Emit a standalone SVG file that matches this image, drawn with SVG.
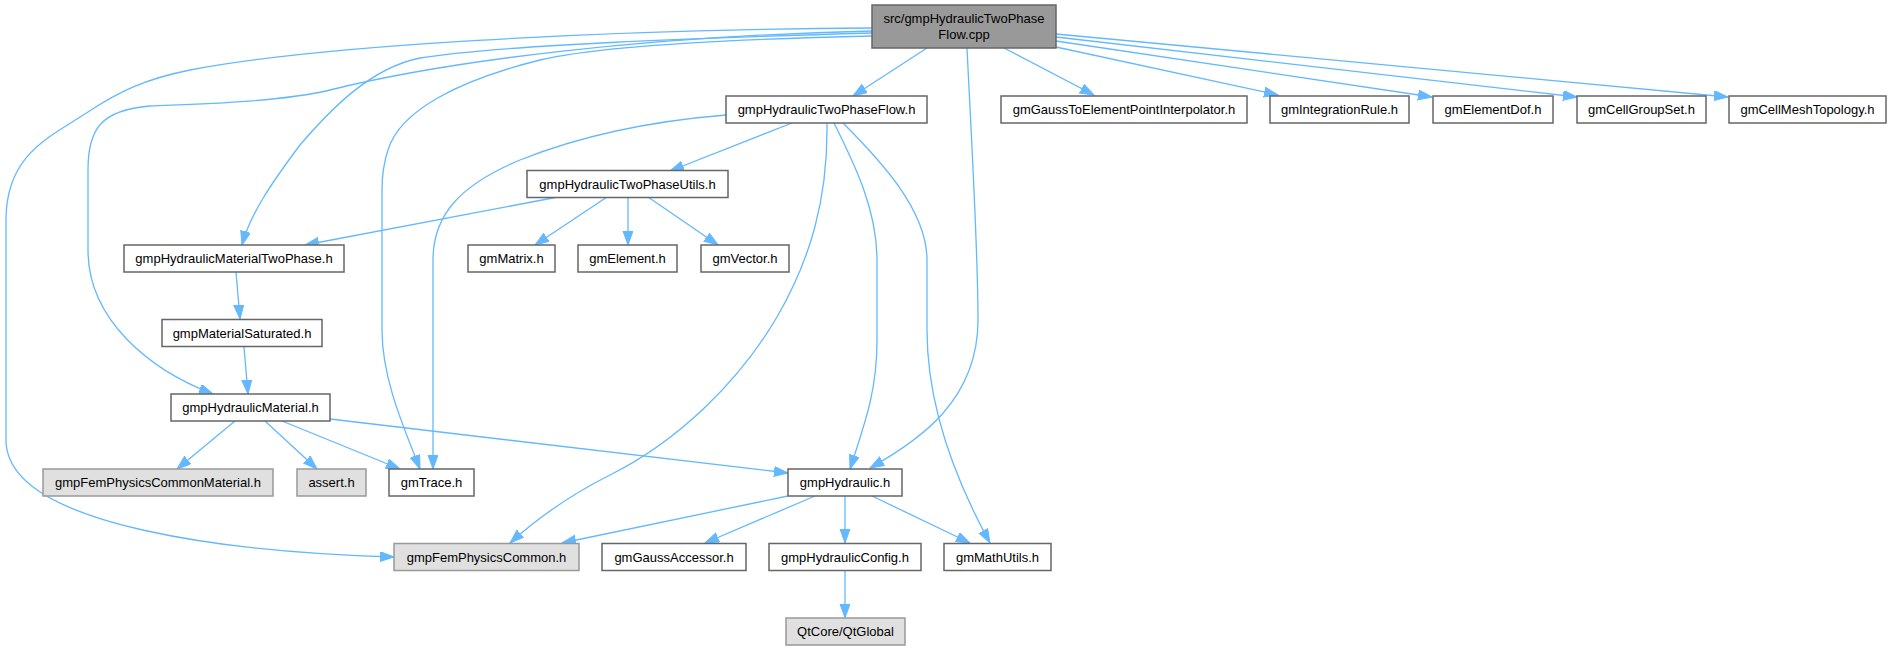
<svg xmlns="http://www.w3.org/2000/svg" width="1891" height="651" viewBox="0 0 1891 651">
<defs>
<style>
.n rect{fill:#ffffff;stroke:#666666;stroke-width:1.5}
.g rect{fill:#e0e0e0;stroke:#999999;stroke-width:1.5}
.m rect{fill:#999999;stroke:#666666;stroke-width:1.5}
text{font-family:"Liberation Sans",Arial,Helvetica,sans-serif;font-size:13px;fill:#000000;text-anchor:middle}
#edges path{fill:none;stroke:#63b8ff;stroke-width:1.3;marker-end:url(#ah)}
</style>
<marker id="ah" markerWidth="15" markerHeight="11" refX="14" refY="5" orient="auto" markerUnits="userSpaceOnUse">
<path d="M0,0 L14,5 L0,10 Z" fill="#63b8ff" stroke="#63b8ff" stroke-width="1"/>
</marker>
</defs>
<rect x="0" y="0" width="1891" height="651" fill="#ffffff"/>
<g id="edges">
<path d="M927,48 L853,96"/>
<path d="M1004,48 L1094,95"/>
<path d="M1056,47 L1278,95"/>
<path d="M1056,41 L1432,97"/>
<path d="M1056,37 L1577,97"/>
<path d="M1056,34 L1728,97"/>
<path d="M967,48 C972,150 978,250 978,320 C978,400 920,440 870,468"/>
<path d="M872,28 C600,30 320,45 190,70 C145,79 118,92 88,112 C48,138 6,155 6,220 L6,440 C6,530 250,553 394,557"/>
<path d="M872,31 C650,36 450,60 330,90 C280,102 200,104 150,106 C100,110 88,130 88,170 L88,250 C88,320 150,370 213,394"/>
<path d="M872,33 C700,38 500,45 420,58 C370,68 330,110 300,145 C270,185 250,215 242,245"/>
<path d="M872,36 C700,40 590,48 540,60 C460,80 400,110 388,150 C383,165 382,175 382,190 L382,330 C382,380 405,430 420,469"/>
<path d="M792,123 L670,171"/>
<path d="M726,115 C640,122 570,140 520,160 C460,185 433,215 433,260 L433,469"/>
<path d="M827,123 C828,200 810,260 777,317 C740,380 680,440 610,475 C560,500 530,525 510,543"/>
<path d="M834,123 C855,165 877,210 877,260 L877,340 C877,390 866,420 850,469"/>
<path d="M843,123 C880,160 927,210 927,260 L927,330 C927,400 950,470 990,543"/>
<path d="M558,197 L305,245"/>
<path d="M607,197 L535,245"/>
<path d="M628,197 L628,245"/>
<path d="M648,197 L718,245"/>
<path d="M236,272 L240,319"/>
<path d="M244,347 L248,394"/>
<path d="M235,421 L177,469"/>
<path d="M265,421 L317,469"/>
<path d="M282,421 L400,469"/>
<path d="M330,419 L788,473"/>
<path d="M788,496 L562,543"/>
<path d="M815,496 L705,543"/>
<path d="M845,496 L845,543"/>
<path d="M872,496 L970,543"/>
<path d="M845,571 L845,618"/>
</g>
<g id="node_main" class="m"><rect x="872" y="5" width="184" height="43"/><text x="964" y="22.5">src/gmpHydraulicTwoPhase</text><text x="964" y="38.5">Flow.cpp</text></g>
<g id="node_twophaseflow" class="n"><rect x="726" y="96" width="201" height="27"/><text x="826.5" y="114.3">gmpHydraulicTwoPhaseFlow.h</text></g>
<g id="node_gauss2elem" class="n"><rect x="1001" y="96" width="246" height="27"/><text x="1124" y="114.3">gmGaussToElementPointInterpolator.h</text></g>
<g id="node_integrationrule" class="n"><rect x="1270" y="96" width="139" height="27"/><text x="1339.5" y="114.3">gmIntegrationRule.h</text></g>
<g id="node_elementdof" class="n"><rect x="1433" y="96" width="120" height="27"/><text x="1493" y="114.3">gmElementDof.h</text></g>
<g id="node_cellgroupset" class="n"><rect x="1577" y="96" width="129" height="27"/><text x="1641.5" y="114.3">gmCellGroupSet.h</text></g>
<g id="node_cellmeshtopology" class="n"><rect x="1729" y="96" width="157" height="27"/><text x="1807.5" y="114.3">gmCellMeshTopology.h</text></g>
<g id="node_utils" class="n"><rect x="527" y="170.5" width="201" height="27"/><text x="627.5" y="188.8">gmpHydraulicTwoPhaseUtils.h</text></g>
<g id="node_mattwophase" class="n"><rect x="124" y="245" width="220" height="27"/><text x="234" y="263.3">gmpHydraulicMaterialTwoPhase.h</text></g>
<g id="node_matrix" class="n"><rect x="468" y="245" width="87" height="27"/><text x="511.5" y="263.3">gmMatrix.h</text></g>
<g id="node_element" class="n"><rect x="578" y="245" width="99" height="27"/><text x="627.5" y="263.3">gmElement.h</text></g>
<g id="node_vector" class="n"><rect x="701" y="245" width="88" height="27"/><text x="745" y="263.3">gmVector.h</text></g>
<g id="node_matsaturated" class="n"><rect x="162" y="319.5" width="160" height="27"/><text x="242" y="337.8">gmpMaterialSaturated.h</text></g>
<g id="node_hydmaterial" class="n"><rect x="171" y="394" width="159" height="27"/><text x="250.5" y="412.3">gmpHydraulicMaterial.h</text></g>
<g id="node_femcommonmat" class="g"><rect x="43" y="469" width="230" height="27"/><text x="158" y="487.3">gmpFemPhysicsCommonMaterial.h</text></g>
<g id="node_assert" class="g"><rect x="297" y="469" width="69" height="27"/><text x="331.5" y="487.3">assert.h</text></g>
<g id="node_trace" class="n"><rect x="389" y="469" width="85" height="27"/><text x="431.5" y="487.3">gmTrace.h</text></g>
<g id="node_hydraulic" class="n"><rect x="788" y="469" width="114" height="27"/><text x="845" y="487.3">gmpHydraulic.h</text></g>
<g id="node_femcommon" class="g"><rect x="394" y="543.5" width="185" height="27"/><text x="486.5" y="561.8">gmpFemPhysicsCommon.h</text></g>
<g id="node_gaussaccessor" class="n"><rect x="602" y="543.5" width="144" height="27"/><text x="674" y="561.8">gmGaussAccessor.h</text></g>
<g id="node_hydconfig" class="n"><rect x="769" y="543.5" width="152" height="27"/><text x="845" y="561.8">gmpHydraulicConfig.h</text></g>
<g id="node_mathutils" class="n"><rect x="944" y="543.5" width="107" height="27"/><text x="997.5" y="561.8">gmMathUtils.h</text></g>
<g id="node_qtglobal" class="g"><rect x="786" y="618" width="119" height="27"/><text x="845.5" y="636.3">QtCore/QtGlobal</text></g>
</svg>
